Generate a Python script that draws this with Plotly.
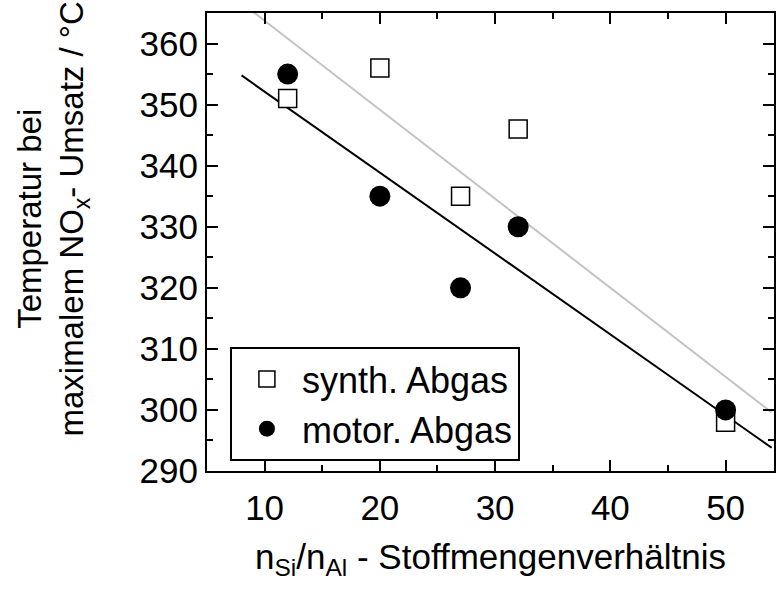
import numpy as np
import plotly.graph_objects as go

# Si/Al ratio of the zeolite samples
ratio = [12, 20, 27, 32, 50]
# temperature of maximum NOx conversion, °C
temp_synth = [351, 356, 335, 346, 298]
temp_motor = [355, 335, 320, 330, 300]

fit_x = [8, 54]

FONT = "Liberation Sans, Arial, sans-serif"


def linear_fit(x, y, xs):
    k, d = np.polyfit(x, y, 1)
    return [k * v + d for v in xs]


fig = go.Figure()

# regression lines (drawn first so the markers sit on top)
fig.add_trace(go.Scatter(x=fit_x, y=linear_fit(ratio, temp_synth, fit_x), mode="lines",
                         line=dict(color="#c3c3c3", width=2), showlegend=False, hoverinfo="skip"))
fig.add_trace(go.Scatter(x=fit_x, y=linear_fit(ratio, temp_motor, fit_x), mode="lines",
                         line=dict(color="black", width=2), showlegend=False, hoverinfo="skip"))

fig.add_trace(go.Scatter(x=ratio, y=temp_synth, mode="markers", name="synth. Abgas",
                         marker=dict(symbol="square", size=18, color="white",
                                     line=dict(color="black", width=1.5))))
fig.add_trace(go.Scatter(x=ratio, y=temp_motor, mode="markers", name="motor. Abgas",
                         marker=dict(symbol="circle", size=21, color="black",
                                     line=dict(color="black", width=0))))

axis_common = dict(
    showline=True, linewidth=2, linecolor="black", mirror="ticks",
    ticks="inside", ticklen=11, tickwidth=2, tickcolor="black",
    showgrid=False, zeroline=False,
    tickfont=dict(family=FONT, size=35, color="black"),
)

fig.update_xaxes(
    range=[5, 54.2], dtick=10, tick0=0, ticklabelstandoff=5,
    minor=dict(ticks="inside", ticklen=6, tickwidth=2, tickcolor="black", dtick=5, showgrid=False),
    title=dict(text="n<sub>Si</sub>/n<sub>Al</sub> - Stoffmengenverhältnis",
               font=dict(family=FONT, size=35, color="black"), standoff=18),
    **axis_common,
)
fig.update_yaxes(
    range=[290, 365], dtick=10, tick0=0,
    minor=dict(ticks="inside", ticklen=6, tickwidth=2, tickcolor="black", dtick=5, showgrid=False),
    **axis_common,
)

fig.add_annotation(
    text="Temperatur bei<br>maximalem NO<sub>x</sub>- Umsatz / °C",
    textangle=-90, xref="paper", yref="paper",
    x=(52 - 207) / 569, y=(471 - 219) / 458, xanchor="center", yanchor="middle",
    showarrow=False, font=dict(family=FONT, size=33, color="black"),
)

fig.update_layout(
    width=777, height=591,
    margin=dict(l=207, r=1, t=13, b=120),
    paper_bgcolor="white", plot_bgcolor="white",
    legend=dict(
        x=(230 - 207) / 569, y=(471 - 347) / 458, xanchor="left", yanchor="top",
        bgcolor="white", bordercolor="black", borderwidth=2,
        font=dict(family=FONT, size=36, color="black"),
        itemsizing="trace", itemwidth=60, tracegroupgap=0,
    ),
)

fig.write_html("out.html")
